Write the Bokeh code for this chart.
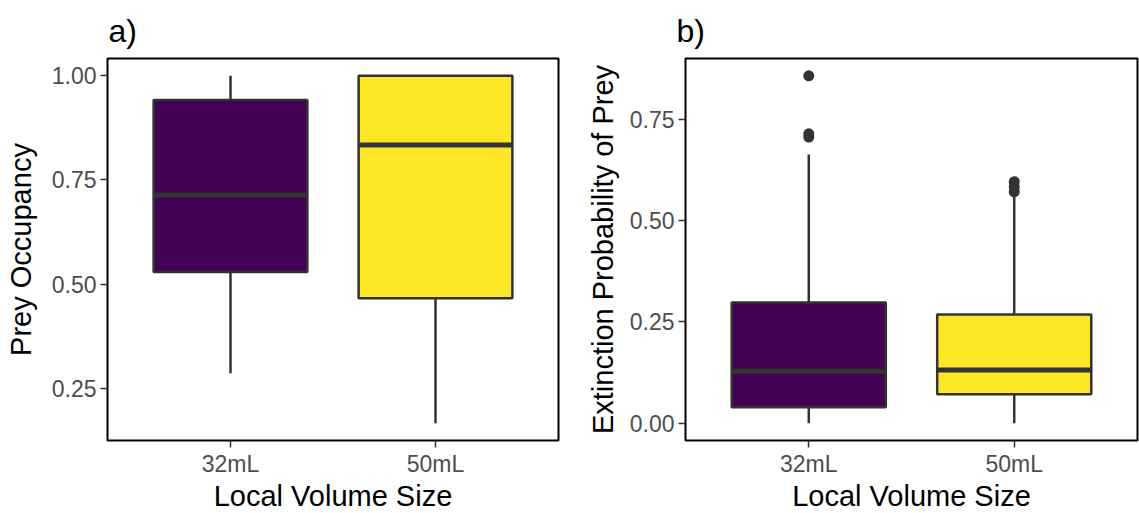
from bokeh.plotting import figure
from bokeh.layouts import row
from bokeh.models import FactorRange, Range1d, FixedTicker, PrintfTickFormatter
from bokeh.embed import file_html
from bokeh.resources import INLINE

# Categories and fill colours
volumes = ["32mL", "50mL"]
box_colors = ["#440154", "#FDE725"]

# a) Prey occupancy: box-plot summary per volume
occ_lower = [0.286, 0.166]
occ_q1 = [0.529, 0.466]
occ_median = [0.714, 0.834]
occ_q3 = [0.942, 1.000]
occ_upper = [1.000, 1.000]
occ_out_x = []
occ_out_y = []
occ_ticks = [0.25, 0.50, 0.75, 1.00]

# b) Extinction probability of prey
ext_lower = [0.000, 0.000]
ext_q1 = [0.039, 0.071]
ext_median = [0.128, 0.131]
ext_q3 = [0.298, 0.268]
ext_upper = [0.663, 0.560]
ext_out_x = ["32mL", "32mL", "32mL", "50mL", "50mL", "50mL"]
ext_out_y = [0.857, 0.714, 0.706, 0.596, 0.583, 0.571]
ext_ticks = [0.00, 0.25, 0.50, 0.75]

FONT = "Liberation Sans"
EDGE = "#333333"


def expanded(lo, hi, frac=0.05):
    pad = (hi - lo) * frac
    return Range1d(lo - pad, hi + pad)


def boxplot(tag, ylabel, lower, q1, median, q3, upper, out_x, out_y, ticks,
            y_range, border_left, frame_w, border_right, tag_offset, label_standoff):
    p = figure(
        x_range=FactorRange(factors=volumes, range_padding=0.1, range_padding_units="percent"),
        y_range=y_range,
        frame_width=frame_w, frame_height=382,
        min_border_left=border_left, min_border_right=border_right,
        min_border_top=58, min_border_bottom=73,
        toolbar_location=None, output_backend="svg",
        background_fill_color="white", border_fill_color="white",
    )
    p.title.text = tag
    p.title.text_font = FONT
    p.title.text_font_size = "32px"
    p.title.text_font_style = "normal"
    p.title.text_color = "black"
    p.title.align = "left"
    p.title.offset = tag_offset
    p.title.standoff = 20

    p.grid.visible = False
    p.outline_line_color = "black"
    p.outline_line_width = 2
    p.outline_line_alpha = 1

    # whiskers
    p.segment(x0=volumes, y0=q3, x1=volumes, y1=upper, line_color=EDGE, line_width=2.5)
    p.segment(x0=volumes, y0=lower, x1=volumes, y1=q1, line_color=EDGE, line_width=2.5)
    # boxes
    p.vbar(x=volumes, bottom=q1, top=q3, width=0.75, fill_color=box_colors,
           line_color=EDGE, line_width=2.5)
    # medians
    p.rect(x=volumes, y=median, width=0.75, height=5, height_units="screen",
           fill_color=EDGE, line_color=None)
    # outliers
    if out_x:
        p.scatter(x=out_x, y=out_y, size=11, fill_color=EDGE, line_color=None)

    for ax in (p.xaxis[0], p.yaxis[0]):
        ax.axis_line_color = None
        ax.major_tick_line_color = EDGE
        ax.major_tick_line_width = 1.5
        ax.major_tick_out = 7
        ax.major_tick_in = 0
        ax.minor_tick_line_color = None
        ax.major_label_text_font = FONT
        ax.major_label_text_font_size = "23px"
        ax.major_label_text_color = "#4D4D4D"
        ax.major_label_standoff = 4
        ax.axis_label_text_font = FONT
        ax.axis_label_text_font_size = "29px"
        ax.axis_label_text_font_style = "normal"
        ax.axis_label_text_color = "black"

    p.xaxis.axis_label = "Local Volume Size"
    p.xaxis.axis_label_standoff = 0
    p.xaxis.major_label_standoff = 3
    p.yaxis.axis_label = ylabel
    p.yaxis.axis_label_standoff = label_standoff
    p.yaxis.ticker = FixedTicker(ticks=ticks)
    p.yaxis.formatter = PrintfTickFormatter(format="%.2f")
    return p


pa = boxplot("a)", "Prey Occupancy", occ_lower, occ_q1, occ_median, occ_q3, occ_upper,
             occ_out_x, occ_out_y, occ_ticks, expanded(0.166, 1.0),
             107, 451, 12, 1, 12)
pb = boxplot("b)", "Extinction Probability of Prey", ext_lower, ext_q1, ext_median, ext_q3,
             ext_upper, ext_out_x, ext_out_y, ext_ticks, expanded(0.0, 0.857),
             115, 452, 2, -9, 8)

layout = row(pa, pb)
open("out.html", "w").write(file_html(layout, INLINE))
